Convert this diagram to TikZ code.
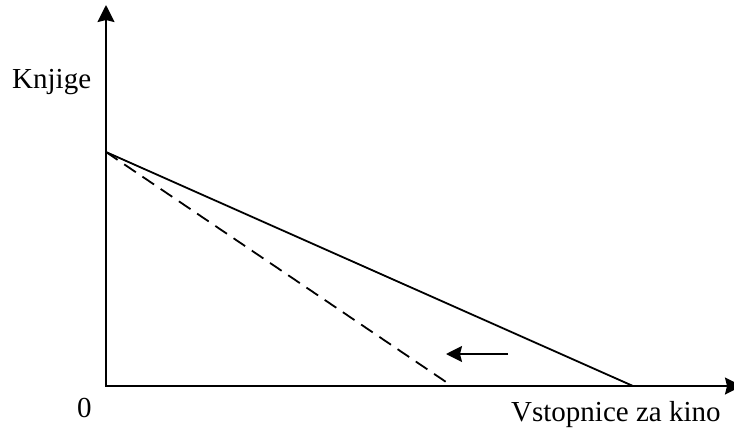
\documentclass[tikz,border=0pt]{standalone}
\usepackage{fontspec}
\setmainfont{Liberation Serif}
\usetikzlibrary{arrows.meta}
\begin{document}
\begin{tikzpicture}[x=1pt,y=-1pt,
  axis/.style={line width=2pt,-{Stealth[length=17pt,width=17pt,inset=2pt]}},
  budget/.style={line width=1.8pt},
  shiftarrow/.style={line width=1.8pt,-{Stealth[length=16pt,width=16pt,inset=2pt]}},
  lbl/.style={font=\fontsize{29}{32}\selectfont,inner sep=0pt,anchor=base west}]
\useasboundingbox (0,0) rectangle (734,429);
\coordinate (O) at (106,386);
\coordinate (ytop) at (106,5);
\coordinate (xend) at (742,386);
\coordinate (A) at (106,152);
\coordinate (B) at (633,386);
\coordinate (C) at (452,386);
\coordinate (s1) at (508,354);
\coordinate (s2) at (446,354);
\draw[axis] (O) -- (ytop);
\draw[axis] ([xshift=-1pt]O) -- (xend);
\draw[budget] (A) -- (B);
\draw[budget,dash pattern=on 14pt off 8pt] (A) -- (C);
\draw[shiftarrow] (s1) -- (s2);
\node[lbl] (knj) at (12,88) {Knjige};
\node[lbl] (zero) at (77,417) {0};
\node[lbl] (vst) at (511,421) {Vstopnice za kino};
\end{tikzpicture}
\end{document}
